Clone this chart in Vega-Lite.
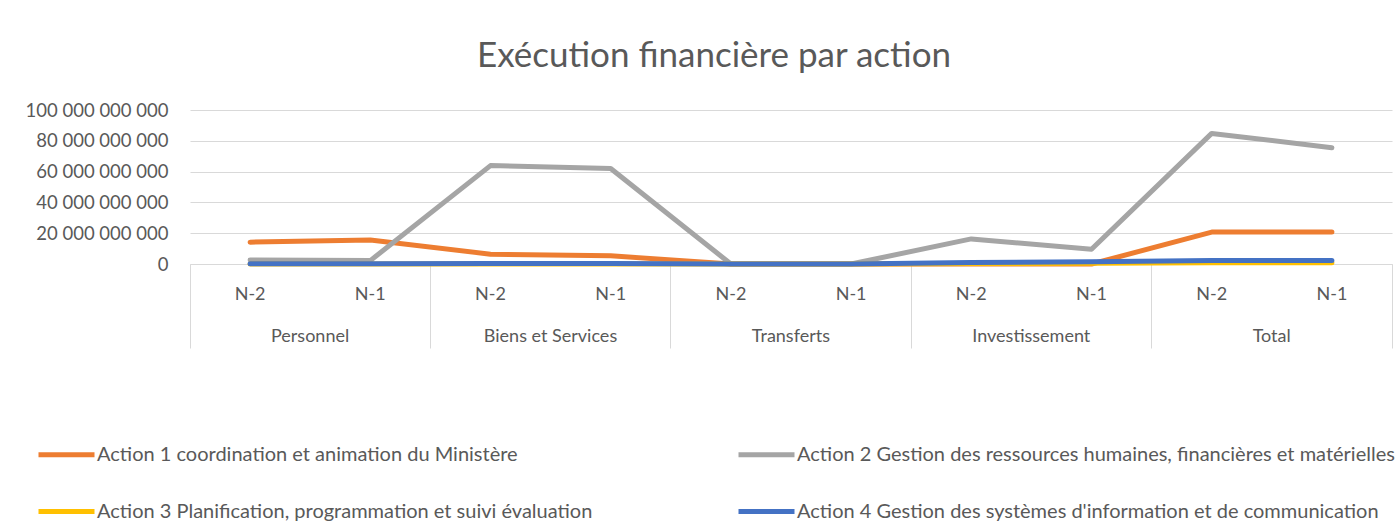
{
  "$schema": "https://vega.github.io/schema/vega-lite/v6.json",
  "width": 1202,
  "height": 154,
  "autosize": {"type": "none"},
  "padding": {"left": 190, "top": 110, "right": 5, "bottom": 268},
  "background": "white",
  "config": {"font": "Lato", "view": {"stroke": null}},
  "title": {"text": "Exécution financière par action", "fontSize": 35, "font": "Lato", "fontWeight": "normal", "color": "#595959", "anchor": "middle", "dx": -77, "offset": 27},
  "data": {"values": [
    {"action": "Action 1 coordination et animation du Ministère", "cat": "Personnel|N-2", "value": 14200000000},
    {"action": "Action 1 coordination et animation du Ministère", "cat": "Personnel|N-1", "value": 15600000000},
    {"action": "Action 1 coordination et animation du Ministère", "cat": "Biens et Services|N-2", "value": 6400000000},
    {"action": "Action 1 coordination et animation du Ministère", "cat": "Biens et Services|N-1", "value": 5300000000},
    {"action": "Action 1 coordination et animation du Ministère", "cat": "Transferts|N-2", "value": 0},
    {"action": "Action 1 coordination et animation du Ministère", "cat": "Transferts|N-1", "value": 0},
    {"action": "Action 1 coordination et animation du Ministère", "cat": "Investissement|N-2", "value": 0},
    {"action": "Action 1 coordination et animation du Ministère", "cat": "Investissement|N-1", "value": 0},
    {"action": "Action 1 coordination et animation du Ministère", "cat": "Total|N-2", "value": 20700000000},
    {"action": "Action 1 coordination et animation du Ministère", "cat": "Total|N-1", "value": 20700000000},
    {"action": "Action 2 Gestion des ressources humaines, financières et matérielles", "cat": "Personnel|N-2", "value": 2600000000},
    {"action": "Action 2 Gestion des ressources humaines, financières et matérielles", "cat": "Personnel|N-1", "value": 2200000000},
    {"action": "Action 2 Gestion des ressources humaines, financières et matérielles", "cat": "Biens et Services|N-2", "value": 63900000000},
    {"action": "Action 2 Gestion des ressources humaines, financières et matérielles", "cat": "Biens et Services|N-1", "value": 62000000000},
    {"action": "Action 2 Gestion des ressources humaines, financières et matérielles", "cat": "Transferts|N-2", "value": 0},
    {"action": "Action 2 Gestion des ressources humaines, financières et matérielles", "cat": "Transferts|N-1", "value": 0},
    {"action": "Action 2 Gestion des ressources humaines, financières et matérielles", "cat": "Investissement|N-2", "value": 16300000000},
    {"action": "Action 2 Gestion des ressources humaines, financières et matérielles", "cat": "Investissement|N-1", "value": 9600000000},
    {"action": "Action 2 Gestion des ressources humaines, financières et matérielles", "cat": "Total|N-2", "value": 84800000000},
    {"action": "Action 2 Gestion des ressources humaines, financières et matérielles", "cat": "Total|N-1", "value": 75500000000},
    {"action": "Action 3 Planification, programmation et suivi évaluation", "cat": "Personnel|N-2", "value": 0},
    {"action": "Action 3 Planification, programmation et suivi évaluation", "cat": "Personnel|N-1", "value": 0},
    {"action": "Action 3 Planification, programmation et suivi évaluation", "cat": "Biens et Services|N-2", "value": 0},
    {"action": "Action 3 Planification, programmation et suivi évaluation", "cat": "Biens et Services|N-1", "value": 0},
    {"action": "Action 3 Planification, programmation et suivi évaluation", "cat": "Transferts|N-2", "value": 0},
    {"action": "Action 3 Planification, programmation et suivi évaluation", "cat": "Transferts|N-1", "value": 0},
    {"action": "Action 3 Planification, programmation et suivi évaluation", "cat": "Investissement|N-2", "value": 300000000},
    {"action": "Action 3 Planification, programmation et suivi évaluation", "cat": "Investissement|N-1", "value": 500000000},
    {"action": "Action 3 Planification, programmation et suivi évaluation", "cat": "Total|N-2", "value": 800000000},
    {"action": "Action 3 Planification, programmation et suivi évaluation", "cat": "Total|N-1", "value": 800000000},
    {"action": "Action 4 Gestion des systèmes d'information et de communication", "cat": "Personnel|N-2", "value": 200000000},
    {"action": "Action 4 Gestion des systèmes d'information et de communication", "cat": "Personnel|N-1", "value": 200000000},
    {"action": "Action 4 Gestion des systèmes d'information et de communication", "cat": "Biens et Services|N-2", "value": 300000000},
    {"action": "Action 4 Gestion des systèmes d'information et de communication", "cat": "Biens et Services|N-1", "value": 300000000},
    {"action": "Action 4 Gestion des systèmes d'information et de communication", "cat": "Transferts|N-2", "value": 0},
    {"action": "Action 4 Gestion des systèmes d'information et de communication", "cat": "Transferts|N-1", "value": 0},
    {"action": "Action 4 Gestion des systèmes d'information et de communication", "cat": "Investissement|N-2", "value": 1000000000},
    {"action": "Action 4 Gestion des systèmes d'information et de communication", "cat": "Investissement|N-1", "value": 1500000000},
    {"action": "Action 4 Gestion des systèmes d'information et de communication", "cat": "Total|N-2", "value": 2200000000},
    {"action": "Action 4 Gestion des systèmes d'information et de communication", "cat": "Total|N-1", "value": 2200000000}
  ]},
  "encoding": {
    "color": {
      "field": "action", "type": "nominal",
      "scale": {
        "domain": ["Action 1 coordination et animation du Ministère", "Action 2 Gestion des ressources humaines, financières et matérielles", "Action 3 Planification, programmation et suivi évaluation", "Action 4 Gestion des systèmes d'information et de communication"],
        "range": ["#ED7D31", "#A5A5A5", "#FFC000", "#4472C4"]
      },
      "legend": {
        "orient": "none", "legendX": -154, "legendY": 314, "direction": "horizontal", "columns": 2,
        "title": null, "symbolType": "stroke", "symbolSize": 3136, "symbolStrokeWidth": 5,
        "labelFont": "Lato", "labelFontSize": 20, "labelColor": "#595959", "labelLimit": 800,
        "labelOffset": 0, "columnPadding": 135, "rowPadding": 16, "padding": 0
      }
    }
  },
  "resolve": {"axis": {"x": "independent", "y": "independent"}},
  "layer": [
    {
      "transform": [{"filter": {"field": "action", "equal": "Action 1 coordination et animation du Ministère"}}],
      "mark": {"type": "line", "strokeWidth": 5, "strokeCap": "round", "strokeJoin": "round"},
      "encoding": {
        "x": {"field": "cat", "type": "nominal", "bandPosition": 0.5,
          "scale": {"type": "band", "paddingInner": 0, "paddingOuter": 0, "domain": ["Personnel|N-2", "Personnel|N-1", "Biens et Services|N-2", "Biens et Services|N-1", "Transferts|N-2", "Transferts|N-1", "Investissement|N-2", "Investissement|N-1", "Total|N-2", "Total|N-1"]},
          "axis": {"orient": "bottom", "title": null, "ticks": false, "domain": true, "domainColor": "#d9d9d9", "domainWidth": 1, "grid": false,
            "labelExpr": "split(datum.value, '|')[1]", "labelAngle": 0, "labelFontSize": 18, "labelColor": "#595959", "labelFont": "Lato", "labelPadding": 21, "labelOverlap": false, "bandPosition": 0.5}},
        "y": {"field": "value", "type": "quantitative",
          "scale": {"domain": [0, 100000000000], "nice": false},
          "axis": {"title": null, "values": [0, 20000000000, 40000000000, 60000000000, 80000000000, 100000000000],
            "labelExpr": "replace(format(datum.value, ','), regexp(',', 'g'), ' ')",
            "ticks": false, "domain": false, "grid": true, "gridColor": "#d9d9d9", "gridWidth": 1,
            "labelFontSize": 18.5, "labelColor": "#595959", "labelFont": "Lato", "labelPadding": 22}}
      }
    },
    {
      "transform": [{"filter": {"field": "action", "equal": "Action 2 Gestion des ressources humaines, financières et matérielles"}}],
      "mark": {"type": "line", "strokeWidth": 5, "strokeCap": "round", "strokeJoin": "round"},
      "encoding": {
        "x": {"field": "cat", "type": "nominal", "bandPosition": 0.5,
          "axis": {"orient": "bottom", "title": null, "values": ["Personnel|N-2", "Biens et Services|N-2", "Transferts|N-2", "Investissement|N-2", "Total|N-2"],
            "bandPosition": 0, "ticks": true, "tickSize": 84, "tickColor": "#d9d9d9", "tickWidth": 1, "domain": false, "grid": false,
            "labelExpr": "split(datum.value, '|')[0]", "labelAngle": 0, "labelAlign": "center", "labelOffset": 60,
            "labelFontSize": 18, "labelColor": "#595959", "labelFont": "Lato", "labelPadding": -21, "labelOverlap": false, "labelBound": false}},
        "y": {"field": "value", "type": "quantitative", "axis": null}
      }
    },
    {
      "transform": [{"filter": {"field": "action", "equal": "Action 3 Planification, programmation et suivi évaluation"}}],
      "mark": {"type": "line", "strokeWidth": 5, "strokeCap": "round", "strokeJoin": "round"},
      "encoding": {
        "x": {"field": "cat", "type": "nominal", "bandPosition": 0.5,
          "axis": {"orient": "bottom", "title": null, "values": ["Total|N-1"], "bandPosition": 1, "ticks": true, "tickSize": 84, "tickColor": "#d9d9d9", "tickWidth": 1,
            "domain": false, "grid": false, "labels": false}},
        "y": {"field": "value", "type": "quantitative", "axis": null}
      }
    },
    {
      "transform": [{"filter": {"field": "action", "equal": "Action 4 Gestion des systèmes d'information et de communication"}}],
      "mark": {"type": "line", "strokeWidth": 5, "strokeCap": "round", "strokeJoin": "round"},
      "encoding": {
        "x": {"field": "cat", "type": "nominal", "bandPosition": 0.5, "axis": null},
        "y": {"field": "value", "type": "quantitative", "axis": null}
      }
    }
  ]
}
